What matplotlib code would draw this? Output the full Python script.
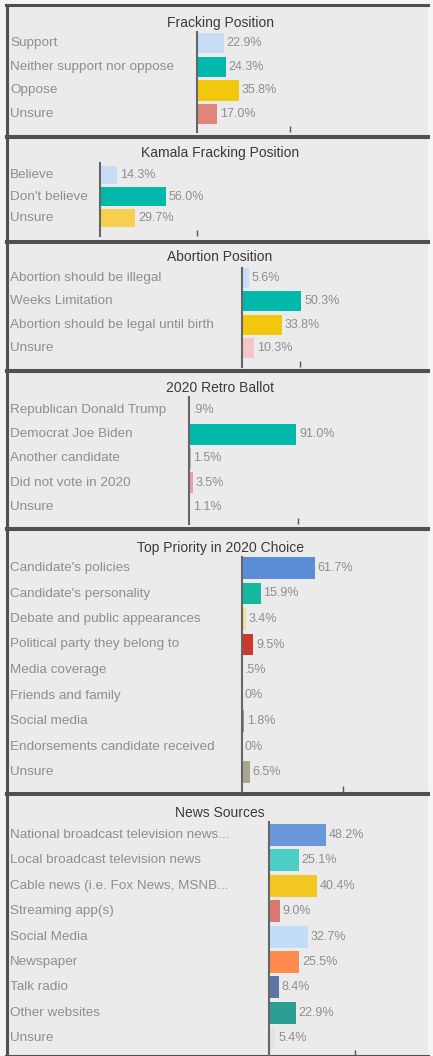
import matplotlib
matplotlib.use("Agg")
import matplotlib.pyplot as plt
from matplotlib.lines import Line2D
from matplotlib.patches import Rectangle
from matplotlib.transforms import blended_transform_factory

# --- survey results (percent of respondents) ---
fracking_labels = ["Support", "Neither support nor oppose", "Oppose", "Unsure"]
fracking_values = [22.9, 24.3, 35.8, 17.0]

kamala_labels = ["Believe", "Don't believe", "Unsure"]
kamala_values = [14.3, 56.0, 29.7]

abortion_labels = ["Abortion should be illegal", "Weeks Limitation",
                   "Abortion should be legal until birth", "Unsure"]
abortion_values = [5.6, 50.3, 33.8, 10.3]

retro_labels = ["Republican Donald Trump", "Democrat Joe Biden", "Another candidate",
                "Did not vote in 2020", "Unsure"]
retro_values = [0.9, 91.0, 1.5, 3.5, 1.1]

priority_labels = ["Candidate's policies", "Candidate's personality",
                   "Debate and public appearances", "Political party they belong to",
                   "Media coverage", "Friends and family", "Social media",
                   "Endorsements candidate received", "Unsure"]
priority_values = [61.7, 15.9, 3.4, 9.5, 0.5, 0.0, 1.8, 0.0, 6.5]

news_labels = ["National broadcast television news...", "Local broadcast television news",
               "Cable news (i.e. Fox News, MSNB...", "Streaming app(s)", "Social Media",
               "Newspaper", "Talk radio", "Other websites", "Unsure"]
news_values = [48.2, 25.1, 40.4, 9.0, 32.7, 25.5, 8.4, 22.9, 5.4]

# --- styling ---
W, H = 433, 1056
PX_PER_PCT = 1.18
FONT = ["Liberation Sans", "DejaVu Sans"]
LABEL_COLOR = "#8E8E8E"
TITLE_COLOR = "#3A3A3A"
BORDER = "#505050"
PANEL_BG = "#EBEBEB"

PANELS = [
    dict(title="Fracking Position", labels=fracking_labels, values=fracking_values,
         colors=["#C6DDF5", "#01B8AA", "#F2C80F", "#E0857C"],
         top=5, bottom=136, title_y=23, axis_x=197, first=43, step=23.7,
         spine=(32, 132), tick=79),
    dict(title="Kamala Fracking Position", labels=kamala_labels, values=kamala_values,
         colors=["#C6DDF5", "#01B8AA", "#F5D04E"],
         top=137, bottom=241, title_y=153, axis_x=100, first=175, step=21.5,
         spine=(163, 236), tick=82),
    dict(title="Abortion Position", labels=abortion_labels, values=abortion_values,
         colors=["#C6DDF5", "#01B8AA", "#F2C80F", "#F4C7CC"],
         top=242, bottom=370, title_y=257, axis_x=242, first=278, step=23.3,
         spine=(268, 367), tick=49),
    dict(title="2020 Retro Ballot", labels=retro_labels, values=retro_values,
         colors=["#C6DDF5", "#01B8AA", "#B9B9B9", "#E8A0AA", "#A8A8A8"],
         top=371, bottom=528, title_y=388, axis_x=189, first=410, step=24.2,
         spine=(397, 524), tick=92),
    dict(title="Top Priority in 2020 Choice", labels=priority_labels, values=priority_values,
         colors=["#5B8DD6", "#14B8A0", "#F3E08C", "#C9392E", "#9A9A9A",
                 "#9A9A9A", "#8797AD", "#9A9A9A", "#A9A58E"],
         top=529, bottom=793, title_y=548, axis_x=242, first=568, step=25.5,
         spine=(557, 792), tick=86),
    dict(title="News Sources", labels=news_labels, values=news_values,
         colors=["#6A96DA", "#4CCFC6", "#F4C623", "#D97A72", "#C2DDF8",
                 "#FF8A4F", "#5A75A6", "#2B9E91", "#E3E3E3"],
         top=794, bottom=1056, title_y=813, axis_x=269, first=835, step=25.4,
         spine=(822, 1056), tick=73),
]


def fx(px):
    return px / W


def fy(py):
    return 1 - py / H


def pct_label(v):
    if v == 0:
        return "0%"
    if v < 1:
        return f"{v:.1f}%".lstrip("0")
    return f"{v:.1f}%"


fig = plt.figure(figsize=(W / 100, H / 100), dpi=100)
fig.patch.set_facecolor("#F4F4F4")

for p in PANELS:
    # panel box: light fill, dark rule on top, left and bottom
    fig.patches.append(Rectangle((fx(6), fy(p["bottom"])), fx(428) - fx(6),
                                 fy(p["top"]) - fy(p["bottom"]),
                                 transform=fig.transFigure, facecolor=PANEL_BG,
                                 edgecolor="none", zorder=-2))
    for xs, ys in [((6, 428), (p["top"], p["top"])),
                   ((6, 428), (p["bottom"], p["bottom"])),
                   ((6.5, 6.5), (p["top"], p["bottom"]))]:
        fig.lines.append(Line2D([fx(x) for x in xs], [fy(y) for y in ys],
                                transform=fig.transFigure, color=BORDER, lw=2.2,
                                zorder=-1))

    fig.text(fx(220), fy(p["title_y"]), p["title"], ha="center", va="center",
             fontsize=10, color=TITLE_COLOR, family=FONT)

    s_top, s_bot = p["spine"]
    ax = fig.add_axes([fx(p["axis_x"]), fy(s_bot), fx(425) - fx(p["axis_x"]),
                       (s_bot - s_top) / H])
    ax.set_facecolor("none")
    ax.set_xlim(0, (425 - p["axis_x"]) / PX_PER_PCT)
    ax.set_ylim((s_bot - p["first"]) / p["step"], (s_top - p["first"]) / p["step"])

    idx = list(range(len(p["values"])))
    ax.barh(idx, p["values"], height=0.86, color=p["colors"], zorder=2)

    for s in ("top", "right", "bottom"):
        ax.spines[s].set_visible(False)
    ax.spines["left"].set_color("#666666")
    ax.spines["left"].set_linewidth(1.5)
    ax.set_yticks([])
    ax.set_xticks([p["tick"]])
    ax.tick_params(axis="x", direction="in", length=4, width=1, color="#555555",
                   labelbottom=False)

    trans = blended_transform_factory(fig.transFigure, ax.transData)
    for i, (lab, v) in enumerate(zip(p["labels"], p["values"])):
        ax.text(fx(10), i, lab, transform=trans, ha="left", va="center",
                fontsize=9.7, color=LABEL_COLOR, family=FONT, clip_on=False)
        ax.annotate(pct_label(v), (v, i), xytext=(2, 0), textcoords="offset points",
                    ha="left", va="center", fontsize=9, color=LABEL_COLOR,
                    family=FONT)

fig.savefig("out.png", dpi=100, facecolor=fig.get_facecolor())
